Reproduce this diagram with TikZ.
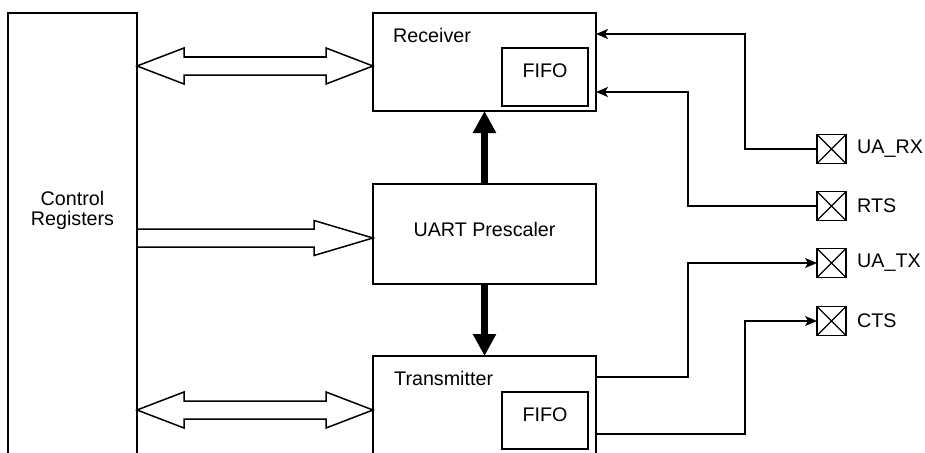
\documentclass[tikz,border=0pt]{standalone}
\usepackage{fontspec}
\setmainfont{Liberation Sans}
\usetikzlibrary{arrows.meta,calc}
\begin{document}
\begin{tikzpicture}[x=1pt,y=-1pt,
  box/.style={draw, line width=1.5pt, inner sep=0pt, outer sep=0pt, anchor=north west},
  lbl/.style={font=\fontsize{19.7}{20}\selectfont, inner sep=0pt},
  pinbox/.style={draw, line width=1.5pt, minimum size=29pt, inner sep=0pt, outer sep=0pt,
    path picture={\draw[line width=1.2pt] (path picture bounding box.north west) -- (path picture bounding box.south east)
      (path picture bounding box.south west) -- (path picture bounding box.north east);}},
  sig/.style={draw, line width=1.5pt},
  hollow/.style={draw, line width=1.5pt, line join=miter, fill=white},
  thick/.style={draw, line width=6.7pt, -{Triangle[length=22pt, width=22pt]}}
]
\useasboundingbox (0,0) rectangle (925,452);

% blocks
\node[box, minimum width=129pt, minimum height=457pt] (cr) at (8,13) {};
\node[lbl, align=center] (crt) at (72.5,210.5) {Control\\Registers};

\node[box, minimum width=223pt, minimum height=98pt] (rx) at (373,13) {};
\node[lbl, anchor=base west] (rxt) at (393,42) {Receiver};
\node[box, minimum width=86pt, minimum height=58pt] (rxf) at (502,48) {};
\node[lbl, anchor=base] (rxft) at (545,77) {FIFO};

\node[box, minimum width=223pt, minimum height=100pt] (pre) at (373,184) {};
\node[lbl, anchor=base] (pret) at (484.5,236) {UART Prescaler};

\node[box, minimum width=223pt, minimum height=120pt] (tx) at (373,356) {};
\node[lbl, anchor=base west] (txt) at (394,385) {Transmitter};
\node[box, minimum width=86pt, minimum height=57pt] (txf) at (502,392) {};
\node[lbl, anchor=base] (txft) at (545,421) {FIFO};

% pins
\node[pinbox, label={[lbl, label distance=11pt]right:UA\_RX}] (p1) at (831.5,149) {};
\node[pinbox, label={[lbl, label distance=11pt]right:RTS}] (p2) at (831.5,206) {};
\node[pinbox, label={[lbl, label distance=11pt]right:UA\_TX}] (p3) at (831.5,263) {};
\node[pinbox, label={[lbl, label distance=11pt]right:CTS}] (p4) at (831.5,321) {};

% hollow bus arrows
\path[hollow] (137,66) -- (184,48) -- (184,57) -- (326,57) -- (326,48) -- (373,66)
  -- (326,84) -- (326,75) -- (184,75) -- (184,84) -- cycle;
\path[hollow] (137,229) -- (314,229) -- (314,220.5) -- (373,238) -- (314,255.5)
  -- (314,247) -- (137,247) -- cycle;
\path[hollow] (137,410) -- (184,392) -- (184,401) -- (326,401) -- (326,392) -- (373,410)
  -- (326,428) -- (326,419) -- (184,419) -- (184,428) -- cycle;

% thick clock arrows
\draw[thick] (pre.north) -- (rx.south);
\draw[thick] (pre.south) -- (tx.north);

% signals
\draw[sig, {Stealth[length=12pt, width=10pt, inset=3pt]}-] ($(rx.north east)+(0,21)$) -| ($(p1.west)+(-72,0)$) -- (p1.west);
\draw[sig, {Stealth[length=12pt, width=10pt, inset=3pt]}-] ($(rx.north east)+(0,79)$) -| ($(p2.west)+(-129,0)$) -- (p2.west);
\draw[sig, -{Stealth[length=12pt, width=10pt, inset=3pt]}] ($(tx.north east)+(0,21)$) -| ($(p3.west)+(-129,0)$) -- (p3.west);
\draw[sig, -{Stealth[length=12pt, width=10pt, inset=3pt]}] ($(tx.north east)+(0,78)$) -| ($(p4.west)+(-72,0)$) -- (p4.west);
\end{tikzpicture}
\end{document}
